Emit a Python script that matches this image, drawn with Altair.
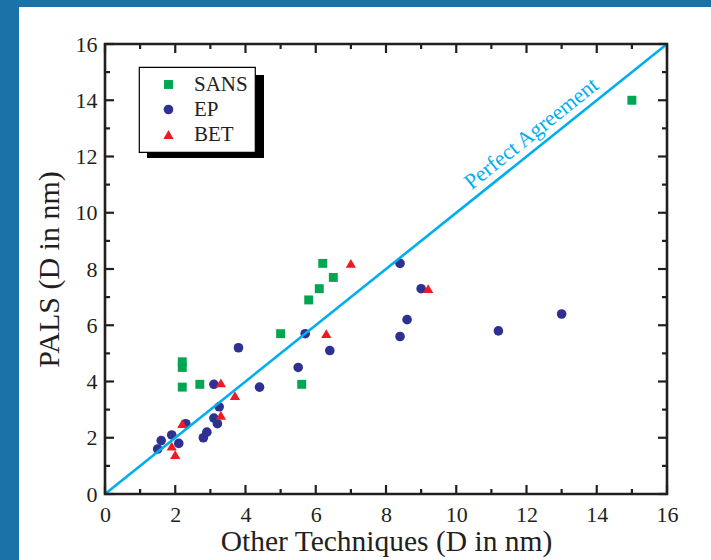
import altair as alt
import pandas as pd

# ---------------- data ----------------
series = ["SANS", "EP", "BET"]

sans_x = [2.2, 2.2, 2.2, 2.7, 5.0, 5.6, 5.8, 6.1, 6.2, 6.5, 15.0]
sans_y = [4.7, 4.5, 3.8, 3.9, 5.7, 3.9, 6.9, 7.3, 8.2, 7.7, 14.0]

ep_x = [1.5, 1.6, 1.9, 2.1, 2.3, 2.8, 2.9, 3.1, 3.1, 3.2, 3.25, 3.8, 4.4,
        5.5, 5.7, 6.4, 8.4, 9.0, 8.6, 8.4, 11.2, 13.0]
ep_y = [1.6, 1.9, 2.1, 1.8, 2.5, 2.0, 2.2, 3.9, 2.7, 2.5, 3.1, 5.2, 3.8,
        4.5, 5.7, 5.1, 8.2, 7.3, 6.2, 5.6, 5.8, 6.4]

bet_x = [1.9, 2.0, 2.2, 3.3, 3.3, 3.7, 6.3, 7.0, 9.2]
bet_y = [1.7, 1.4, 2.5, 3.95, 2.8, 3.5, 5.7, 8.2, 7.3]

major_ticks = [0, 2, 4, 6, 8, 10, 12, 14, 16]
minor_ticks = [1, 3, 5, 7, 9, 11, 13, 15]

line_x = [0, 16]
line_y = [0, 16]

annot_text = ["Perfect Agreement"]
annot_pos = [12.4]

x_title = "Other Techniques (D in nm)"
y_title = "PALS (D in nm)"

# ---------------- styling ----------------
W, H = 562, 450
FONT = "Liberation Serif"
colors = ["#00a651", "#2e3192", "#ed1c24"]
shapes = ["square", "circle", "triangle-up"]
sizes = [80, 105, 150]
LINE_COLOR = "#00aeef"
BLUE = "#1b72a8"

pts = pd.DataFrame({
    "x": sans_x + ep_x + bet_x,
    "y": sans_y + ep_y + bet_y,
    "series": ["SANS"] * len(sans_x) + ["EP"] * len(ep_x) + ["BET"] * len(bet_x),
})
pts["order"] = pts["series"].map({s: i for i, s in enumerate(series)})

scale = alt.Scale(domain=[0, 16], nice=False, zero=False)

def X(field="x"):
    return alt.X(f"{field}:Q", scale=scale, title=x_title,
                 axis=alt.Axis(values=major_ticks, title=x_title, format="d"))

def Y(field="y"):
    return alt.Y(f"{field}:Q", scale=scale, title=y_title,
                 axis=alt.Axis(values=major_ticks, title=y_title, format="d"))

one = pd.DataFrame({"a": [0]})

# blue border strips (page background outside the white panel)
strip_left = alt.Chart(one).mark_rect(color=BLUE, clip=False).encode(
    x=alt.value(-105), x2=alt.value(-86), y=alt.value(-44), y2=alt.value(H + 66)
)
strip_top = alt.Chart(one).mark_rect(color=BLUE, clip=False).encode(
    x=alt.value(-105), x2=alt.value(W + 44), y=alt.value(-44), y2=alt.value(-37)
)

# legend shadow
LX, LY, LW, LH = 34, 23, 117, 83
shadow = alt.Chart(one).mark_rect(color="black").encode(
    x=alt.value(LX + 8), x2=alt.value(LX + 8 + LW),
    y=alt.value(LY + 8), y2=alt.value(LY + 8 + LH)
)

maj = pd.DataFrame({"x": major_ticks, "y": major_ticks})
mnr = pd.DataFrame({"x": minor_ticks, "y": minor_ticks})

def tick_layers(df, L):
    base = alt.Chart(df).mark_rule(color="#231f20", strokeWidth=2.2)
    return [
        base.encode(x=X(), y=alt.value(H), y2=alt.value(H - L)),
        base.encode(x=X(), y=alt.value(0), y2=alt.value(L)),
        base.encode(y=Y(), x=alt.value(0), x2=alt.value(L)),
        base.encode(y=Y(), x=alt.value(W), x2=alt.value(W - L)),
    ]

points = alt.Chart(pts).mark_point(filled=True, opacity=1).encode(
    x=X(), y=Y(),
    color=alt.Color("series:N", scale=alt.Scale(domain=series, range=colors),
                    legend=alt.Legend(title=None, orient="none", legendX=LX, legendY=LY)),
    shape=alt.Shape("series:N", scale=alt.Scale(domain=series, range=shapes)),
    size=alt.Size("series:N", scale=alt.Scale(domain=series, range=sizes), legend=None),
    order=alt.Order("order:Q"),
)

diag = alt.Chart(pd.DataFrame({"x": line_x, "y": line_y})).mark_line(
    color=LINE_COLOR, strokeWidth=2.6
).encode(x=X(), y=Y())

annot = alt.Chart(pd.DataFrame({"x": annot_pos, "y": annot_pos, "t": annot_text})).mark_text(
    color=LINE_COLOR, font=FONT, fontSize=22, angle=321.3, align="center",
    baseline="alphabetic", dy=-8
).encode(x=X(), y=Y(), text="t:N")

frame = alt.Chart(one).mark_rect(filled=False, stroke="#231f20", strokeWidth=2.6).encode(
    x=alt.value(0), x2=alt.value(W), y=alt.value(0), y2=alt.value(H)
)

layers = [strip_left, strip_top, shadow] + tick_layers(maj, 9) + tick_layers(mnr, 5) + [points, diag, annot, frame]

chart = alt.layer(*layers).properties(
    width=W, height=H,
    autosize=alt.AutoSizeParams(type="none"),
    padding={"left": 105, "top": 44, "right": 44, "bottom": 66},
    background="white",
).configure_view(strokeWidth=0).configure_axis(
    grid=False, ticks=False, domain=False,
    labelFont=FONT, labelFontSize=22, labelColor="#231f20",
    titleFont=FONT, titleFontSize=29, titleFontWeight="normal", titleColor="#231f20",
    labelFlush=False,
).configure_axisX(labelPadding=10, titlePadding=2, titleFontSize=29.5).configure_axisY(
    labelPadding=8, titlePadding=11, titleFontSize=30
).configure_legend(
    fillColor="white", strokeColor="black", strokeWidth=1.2, padding=7,
    labelFont=FONT, labelFontSize=21, labelColor="#231f20",
    symbolSize=110, symbolOffset=12, labelOffset=15, rowPadding=3,
    symbolStrokeWidth=0,
)

chart.save("out.html", embed_options={"renderer": "svg", "actions": False})
